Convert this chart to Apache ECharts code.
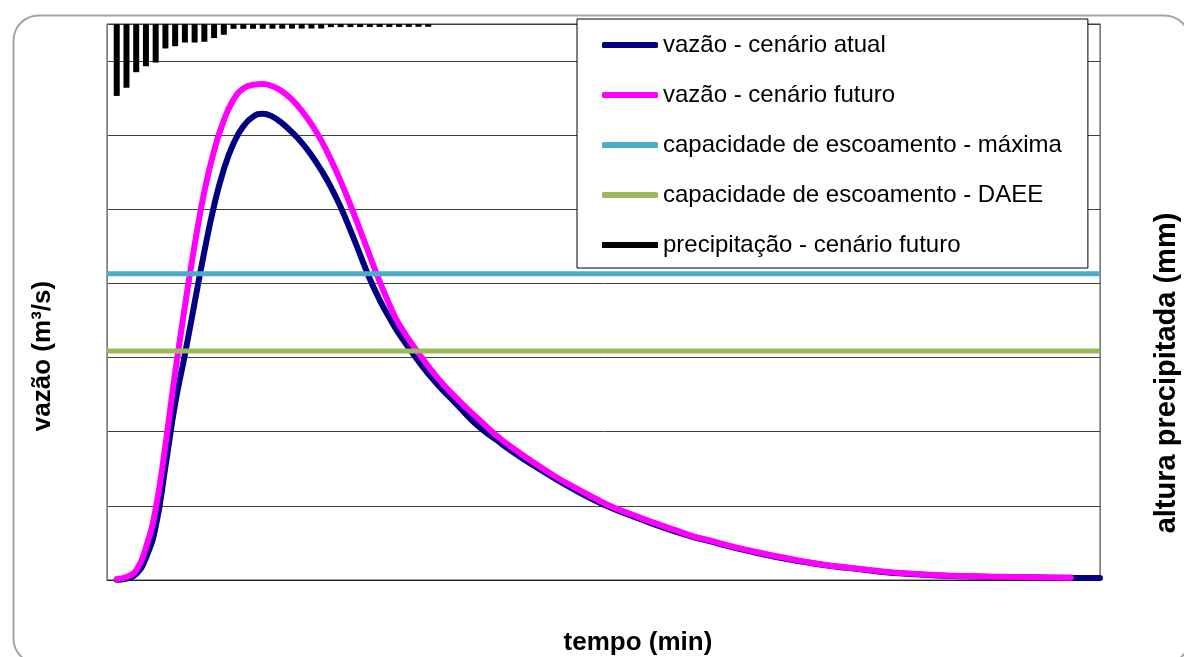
<!DOCTYPE html>
<html>
<head>
<meta charset="utf-8">
<script src="https://cdn.jsdelivr.net/npm/echarts@6/dist/echarts.min.js"></script>
<style>
html,body{margin:0;padding:0;background:#fff;}
#c{width:1184px;height:657px;}
</style>
</head>
<body>
<div id="c"></div>
<script>
// ---- data ----
const tempo = [5,10,15,20,25,30,35,40,45,50,55,60,65,70,75,80,85,90,95,100,105,110,115,120,125,130,135,140,145,150,
  160,170,180,190,200,210,220,230,240,250,260,270,280,290,300,310,320,330,340,350,360,370,380,390,400,410,420,430,440,450,460,470,480,490,495,500,510];
const vazaoAtual = [0.05,0.2,0.8,3.0,7.2,15.3,23.8,30.4,37.4,44.3,50.5,55.4,58.9,61.2,62.5,62.9,62.5,61.6,60.4,59.0,57.3,55.3,53.0,50.3,47.2,43.9,40.6,37.8,35.4,33.2,
  29.5,26.3,23.6,20.9,18.9,17.0,15.3,13.7,12.2,10.8,9.6,8.6,7.6,6.7,5.9,5.2,4.5,3.9,3.3,2.8,2.35,1.95,1.65,1.35,1.05,0.85,0.7,0.58,0.5,0.44,0.4,0.36,0.33,0.3,0.29,0.28,0.27];
const vazaoFuturo = [0.15,0.4,1.3,4.4,9.6,18.2,28.0,36.9,45.2,52.4,57.9,62.0,64.8,66.3,66.8,66.9,66.6,65.9,64.8,63.3,61.5,59.3,56.7,53.8,50.6,47.2,43.7,40.3,37.2,34.5,
  30.6,27.2,24.4,21.9,19.5,17.5,15.7,14.0,12.5,11.1,9.8,8.8,7.8,6.9,6.0,5.3,4.6,4.0,3.4,2.9,2.4,2.0,1.7,1.4,1.1,0.9,0.75,0.62,0.53,0.47,0.43,0.39,0.35,0.32,0.3,null,null];
const tempoChuva = [5,10,15,20,25,30,35,40,45,50,55,60,65,70,75,80,85,90,95,100,105,110,115,120,125,130,135,140,145,150,155,160,165];
const precipitacao = [9.7,8.6,6.5,5.7,5.2,3.3,3.0,2.5,2.5,2.4,1.9,1.45,0.65,0.65,0.64,0.64,0.63,0.63,0.62,0.62,0.61,0.61,0.42,0.42,0.41,0.41,0.40,0.40,0.40,0.39,0.39,0.38,0.38];
const capacidadeMaxima = 41.3;
const capacidadeDAEE = 30.9;
const nomes = ['vazão - cenário atual','vazão - cenário futuro','capacidade de escoamento - máxima','capacidade de escoamento - DAEE','precipitação - cenário futuro'];
const tMin = 0, tMax = 510;

// ---- chart ----
const FONT = '"Liberation Sans", Arial, sans-serif';
const chart = echarts.init(document.getElementById('c'), null, {renderer:'canvas'});
const pair = (xs, ys) => xs.map((x,i) => [x, ys[i]]);
chart.setOption({
  animation:false,
  backgroundColor:'#fff',
  grid:{left:107, right:84, top:24, bottom:77, containLabel:false, show:true, borderColor:'#404040', borderWidth:1, backgroundColor:'transparent'},
  xAxis:{type:'value', min:tMin, max:tMax, axisLabel:{show:false}, axisTick:{show:false}, splitLine:{show:false},
    axisLine:{show:true, onZero:false, lineStyle:{color:'#202020', width:1}}},
  yAxis:[
    {type:'value', min:0, max:75, interval:10, axisLabel:{show:false}, axisTick:{show:false},
      axisLine:{show:true, lineStyle:{color:'#808080', width:1}},
      splitLine:{show:true, lineStyle:{color:'#404040', width:1}}},
    {type:'value', min:0, max:75, inverse:true, position:'right', axisLabel:{show:false}, axisTick:{show:false},
      axisLine:{show:true, lineStyle:{color:'#808080', width:1}}, splitLine:{show:false}}
  ],
  legend:{
    orient:'vertical', left:577, top:19, padding:[14,26,11,25],
    itemWidth:56, itemHeight:6, itemGap:26,
    backgroundColor:'#fff', borderColor:'#000', borderWidth:1, borderRadius:0,
    textStyle:{fontSize:24, fontFamily:FONT, color:'#000', lineHeight:24},
    data:nomes.map((n,i)=>({name:n, icon: i===4 ? 'rect' : 'roundRect'}))
  },
  series:[
    {name:nomes[0], type:'line', data:pair(tempo, vazaoAtual), showSymbol:false, smooth:0.5,
      color:'#000080', lineStyle:{color:'#000080', width:6, cap:'round', join:'round'}, z:2},
    {name:nomes[1], type:'line', data:pair(tempo, vazaoFuturo), showSymbol:false, smooth:0.5,
      color:'#FF00FF', lineStyle:{color:'#FF00FF', width:6, cap:'round', join:'round'}, z:3},
    {name:nomes[2], type:'line', data:[[tMin,capacidadeMaxima],[tMax,capacidadeMaxima]], showSymbol:false,
      color:'#4BACC6', lineStyle:{color:'#4BACC6', width:5}, z:4},
    {name:nomes[3], type:'line', data:[[tMin,capacidadeDAEE],[tMax,capacidadeDAEE]], showSymbol:false,
      color:'#9BBB59', lineStyle:{color:'#9BBB59', width:5}, z:4},
    {name:nomes[4], type:'bar', yAxisIndex:1, data:pair(tempoChuva, precipitacao), barWidth:6,
      color:'#000', itemStyle:{color:'#000'}, z:5}
  ],
  graphic:[
    {type:'rect', left:11, top:13, shape:{width:1176, height:648, r:25}, silent:true, z:-10,
      style:{fill:'none', stroke:'#A6A6A6', lineWidth:2}},
    {type:'text', x:638, y:643, silent:true,
      style:{text:'tempo (min)', font:'bold 26px '+FONT, fill:'#000', textAlign:'center', textVerticalAlign:'middle'}},
    {type:'text', x:43, y:356, rotation:Math.PI/2, silent:true,
      style:{text:'vazão (m³/s)', font:'bold 26px '+FONT, fill:'#000', textAlign:'center', textVerticalAlign:'middle'}},
    {type:'text', x:1167, y:373, rotation:Math.PI/2, silent:true,
      style:{text:'altura precipitada (mm)', font:'bold 29px '+FONT, fill:'#000', textAlign:'center', textVerticalAlign:'middle'}}
  ]
});
</script>
</body>
</html>
